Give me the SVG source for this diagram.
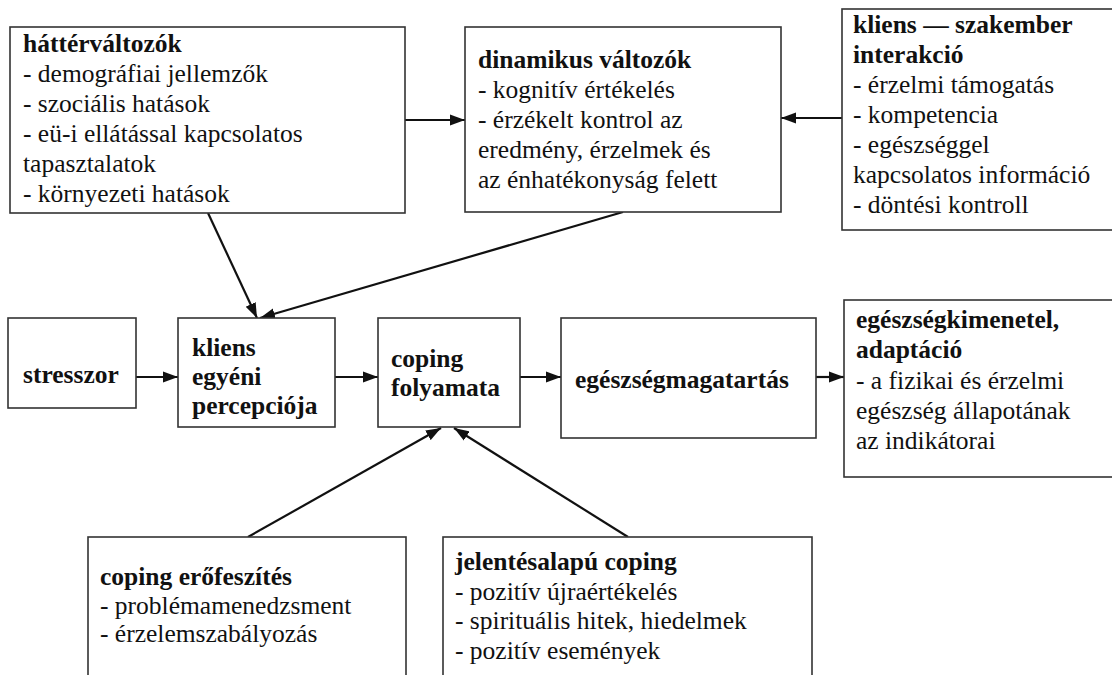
<svg xmlns="http://www.w3.org/2000/svg" width="1112" height="675" viewBox="0 0 1112 675">
<defs>
<style>
.box{fill:#fff;stroke:#333;stroke-width:1.6}
text{font-family:'Liberation Serif','Times New Roman',serif;font-size:25.5px;fill:#111}
.b{font-weight:bold}
.c{stroke:#111;stroke-width:2.2;fill:none}
</style>
<marker id="ah" markerUnits="userSpaceOnUse" markerWidth="16" markerHeight="12" refX="15" refY="6" orient="auto">
<path d="M0,0.5 L15,6 L0,11.5 Z" fill="#111"/>
</marker>
</defs>
<rect width="1112" height="675" fill="#fff"/>

<g id="connectors">
<line class="c" x1="405" y1="120" x2="465" y2="120" marker-end="url(#ah)"/>
<line class="c" x1="842" y1="118" x2="781" y2="118" marker-end="url(#ah)"/>
<line class="c" x1="208" y1="213" x2="257" y2="318" marker-end="url(#ah)"/>
<line class="c" x1="623" y1="212" x2="260" y2="318" marker-end="url(#ah)"/>
<line class="c" x1="136" y1="377" x2="178" y2="377" marker-end="url(#ah)"/>
<line class="c" x1="335" y1="377" x2="378" y2="377" marker-end="url(#ah)"/>
<line class="c" x1="520" y1="377" x2="561" y2="377" marker-end="url(#ah)"/>
<line class="c" x1="816" y1="377" x2="844" y2="377" marker-end="url(#ah)"/>
<line class="c" x1="248" y1="537" x2="441" y2="428" marker-end="url(#ah)"/>
<line class="c" x1="628" y1="537" x2="454" y2="428" marker-end="url(#ah)"/>
</g>

<g id="hattervaltozok">
<rect class="box" x="10" y="27" width="395" height="186"/>
<text x="23" y="52"><tspan class="b">háttérváltozók</tspan><tspan x="23" dy="30">- demográfiai jellemzők</tspan><tspan x="23" dy="30">- szociális hatások</tspan><tspan x="23" dy="30">- eü-i ellátással kapcsolatos</tspan><tspan x="23" dy="30">tapasztalatok</tspan><tspan x="23" dy="30">- környezeti hatások</tspan></text>
</g>

<g id="dinamikus">
<rect class="box" x="465" y="27" width="316" height="185"/>
<text x="478" y="68"><tspan class="b">dinamikus változók</tspan><tspan x="478" dy="30">- kognitív értékelés</tspan><tspan x="478" dy="30">- érzékelt kontrol az</tspan><tspan x="478" dy="30">eredmény, érzelmek és</tspan><tspan x="478" dy="30">az énhatékonyság felett</tspan></text>
</g>

<g id="interakcio">
<rect class="box" x="842" y="9" width="275" height="221"/>
<text x="853" y="33"><tspan class="b">kliens — szakember</tspan><tspan x="853" dy="30" class="b">interakció</tspan><tspan x="853" dy="30">- érzelmi támogatás</tspan><tspan x="853" dy="30">- kompetencia</tspan><tspan x="853" dy="30">- egészséggel</tspan><tspan x="853" dy="30">kapcsolatos információ</tspan><tspan x="853" dy="30">- döntési kontroll</tspan></text>
</g>

<g id="stresszor">
<rect class="box" x="8" y="318" width="128" height="90"/>
<text class="b" x="23" y="383">stresszor</text>
</g>

<g id="percepcio">
<rect class="box" x="178" y="318" width="157" height="109"/>
<text class="b" x="192" y="356"><tspan>kliens</tspan><tspan x="192" dy="29">egyéni</tspan><tspan x="192" dy="29">percepciója</tspan></text>
</g>

<g id="coping-folyamata">
<rect class="box" x="378" y="318" width="142" height="109"/>
<text class="b" x="391" y="367"><tspan>coping</tspan><tspan x="391" dy="29">folyamata</tspan></text>
</g>

<g id="egeszsegmagatartas">
<rect class="box" x="561" y="318" width="255" height="120"/>
<text class="b" x="575" y="388">egészségmagatartás</text>
</g>

<g id="egeszsegkimenetel">
<rect class="box" x="844" y="300" width="275" height="177"/>
<text x="856" y="328"><tspan class="b">egészségkimenetel,</tspan><tspan x="856" dy="30.3" class="b">adaptáció</tspan><tspan x="856" dy="30.3">- a fizikai és érzelmi</tspan><tspan x="856" dy="30.3">egészség állapotának</tspan><tspan x="856" dy="30.3">az indikátorai</tspan></text>
</g>

<g id="coping-erofeszites">
<rect class="box" x="88" y="537" width="318" height="150"/>
<text x="100" y="585"><tspan class="b">coping erőfeszítés</tspan><tspan x="100" dy="28.5">- problémamenedzsment</tspan><tspan x="100" dy="28.5">- érzelemszabályozás</tspan></text>
</g>

<g id="jelentesalapu">
<rect class="box" x="443" y="537" width="369" height="150"/>
<text x="455" y="570"><tspan class="b">jelentésalapú coping</tspan><tspan x="455" dy="29.5">- pozitív újraértékelés</tspan><tspan x="455" dy="29.5">- spirituális hitek, hiedelmek</tspan><tspan x="455" dy="29.5">- pozitív események</tspan></text>
</g>
</svg>
